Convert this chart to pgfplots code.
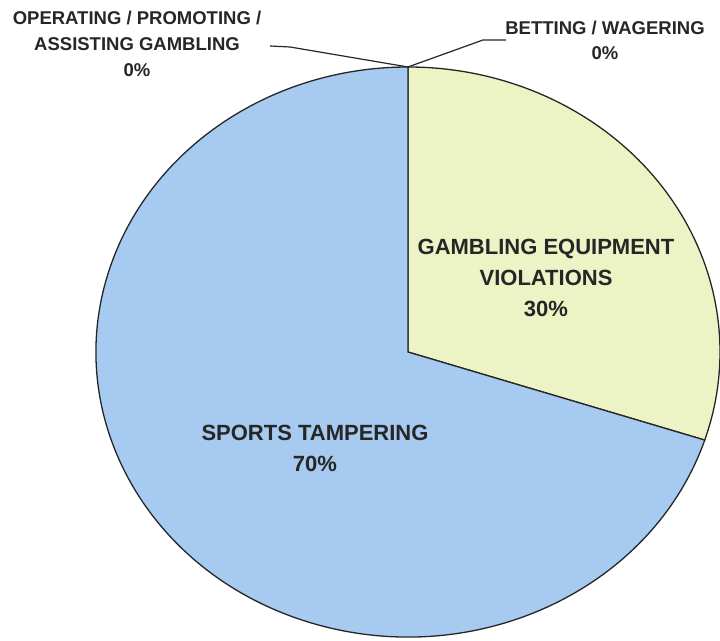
\documentclass[border=0pt]{standalone}
\usepackage{pgfplots}
\pgfplotsset{compat=1.18}
\usepackage{fontspec}
\setmainfont{Liberation Sans}
\definecolor{sliceblue}{RGB}{166,202,240}
\definecolor{sliceyellow}{RGB}{236,244,198}

% slice values (percent)
\def\vGambling{30}
\def\vSports{70}
\def\vOperating{0}
\def\vBetting{0}

\begin{document}
\begin{tikzpicture}
\begin{axis}[scale only axis, width=720pt, height=640pt,
  xmin=0, xmax=720, ymin=0, ymax=640, hide axis, clip=false]
\pgfmathsetmacro{\aA}{90-3.6*\vGambling}
\pgfmathsetmacro{\aB}{\aA-3.6*\vSports}
% gambling equipment violations
\filldraw[fill=sliceyellow, draw=black!85, line width=1.3pt]
  (axis cs:408,288) -- ++(90:312pt and 285pt)
  arc[start angle=90, end angle=\aA, x radius=312pt, y radius=285pt] -- cycle;
% sports tampering
\filldraw[fill=sliceblue, draw=black!85, line width=1.3pt]
  (axis cs:408,288) -- ++(\aA:312pt and 285pt)
  arc[start angle=\aA, end angle=\aB, x radius=312pt, y radius=285pt] -- cycle;
% leader lines for the empty slices
\draw[black!85, line width=1.2pt] (axis cs:408,573) -- (axis cs:290,593) -- (axis cs:270,594);
\draw[black!85, line width=1.2pt] (axis cs:408,573) -- (axis cs:483,600) -- (axis cs:506,600);
% labels
\node[align=center, font=\fontsize{18.5}{26}\selectfont\bfseries, text=black!85]
  at (axis cs:137,596) {OPERATING / PROMOTING /\\ASSISTING GAMBLING\\\vOperating\%};
\node[align=center, font=\fontsize{18.5}{25}\selectfont\bfseries, text=black!85]
  at (axis cs:605,600) {BETTING / WAGERING\\\vBetting\%};
\node[align=center, font=\fontsize{22}{31}\selectfont\bfseries, text=black!85]
  at (axis cs:546,362) {GAMBLING EQUIPMENT\\VIOLATIONS\\\vGambling\%};
\node[align=center, font=\fontsize{22}{31}\selectfont\bfseries, text=black!85]
  at (axis cs:315,192) {SPORTS TAMPERING\\\vSports\%};
\end{axis}
\pgfresetboundingbox
\path (current axis.south west) rectangle (current axis.north east);
\end{tikzpicture}
\end{document}
